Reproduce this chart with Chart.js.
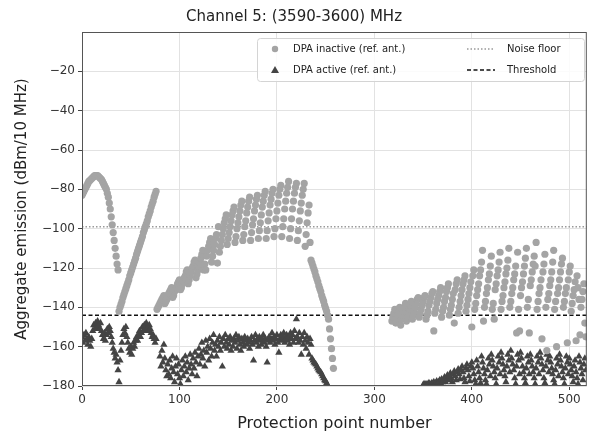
<!DOCTYPE html>
<html>
<head>
<meta charset="utf-8">
<script src="https://cdn.jsdelivr.net/npm/chart.js@4.4.1/dist/chart.umd.min.js"></script>
<style>
  html, body { margin: 0; padding: 0; background: #fff; }
  #wrap { width: 591px; height: 433px; }
</style>
</head>
<body>
<div id="wrap"><canvas id="chart" width="591" height="433"></canvas></div>
<script>
// aggregate emission per protection point, in dBm/10 MHz
// each run starts at the protection point given in its *_START constant

// DPA inactive (ref. ant.)
const INACTIVE_A_START = 0;
const inactiveA = [-83, -82, -81, -80, -79, -78, -77, -76, -75.5, -75, -74.5, -74, -73.5, -73, -73, -73, -73, -73.5,
  -74, -74.5, -75, -76, -77, -78, -79, -80, -82, -84, -87, -90, -94, -98, -102, -106, -110, -114, -118, -121];

const INACTIVE_B_START = 38;
const inactiveB = [-142, -140, -138.5, -137, -135, -133.5, -132, -130.5, -129, -127.5, -126, -124, -122.5, -121,
  -119.5, -118, -116.5, -115, -113, -111.5, -110, -108.5, -107, -105.5, -104, -102, -100.5, -99, -97.5, -96, -94,
  -92.5, -91, -89, -87.5, -86, -84, -82.5, -81];

const INACTIVE_C_START = 77;
const inactiveC = [
  -141, -140, -139, -138, -137, -136, -135, -134,
  -138, -137, -136, -134, -133, -132, -131, -130,
  -135, -134, -132, -131, -130, -128, -127, -126,
  -131, -130, -128, -127, -125, -124, -122, -121,
  -128, -126, -124, -122, -120, -119, -117, -116,
  -125, -123, -121, -119, -117, -115, -113, -111,
  -121, -118, -121, -114, -111, -109, -107, -105,
  -117, -114, -111, -108, -105, -103, -117.5, -99,
  -112, -109, -106, -103, -100, -97, -95, -93,
  -108, -105, -102, -99, -96, -93, -91, -89,
  -107, -104, -100, -97, -94, -91, -88, -86,
  -106, -103, -99, -96, -92, -89, -86, -84,
  -106, -102, -98, -95, -91, -88, -85, -83,
  -105, -101, -97, -93, -89, -86, -83, -81,
  -105, -101, -96, -92, -88, -85, -82, -80,
  -104, -100, -95, -91, -87, -83, -80, -78,
  -104, -99, -95, -90, -86, -82, -79, -76,
  -105, -100, -95, -90, -86, -82, -79, -77,
  -106, -101, -96, -91, -87, -83, -80, -77,
  -109, -103, -97, -92, -88, -107,
  -116, -117.5, -119, -120.5, -122, -124, -125.5, -127, -129, -130.5, -132, -134, -135.5, -137, -139, -140.5,
  -142, -144, -146, -151, -156, -161, -166, -171];

const INACTIVE_D_START = 318;
const inactiveD = [
  -147, -145, -143, -141,
  -148, -146, -144, -142, -140,
  -149, -146, -144, -142, -140, -138,
  -147, -145, -143, -141, -139, -137,
  -146, -144, -142, -140, -138, -136, -135,
  -145, -143, -141, -139, -137, -135, -134,
  -146, -144, -142, -139, -137, -135, -133, -132,
  -152, -143, -141, -138, -136, -134, -132, -130,
  -145, -142, -140, -137, -135, -132, -130, -128,
  -144, -141, -139, -136, -133, -148, -131, -128, -126,
  -143, -140, -137, -134, -131, -128, -126, -124,
  -142, -139, -136, -133, -130, -127, -150, -124, -121,
  -141, -138, -134, -131, -128, -124, -121, -117, -111,
  -147, -140, -137, -133, -130, -126, -123, -119, -114,
  -141, -138, -146, -131, -128, -124, -121, -117, -112,
  -141, -137, -134, -130, -127, -123, -120, -116, -110,
  -140, -137, -133, -130, -126, -123, -119, -153, -112,
  -141, -152, -134, -130, -127, -123, -119, -115, -110,
  -140, -136, -153, -129, -126, -122, -118, -114, -119,
  -107, -141, -137, -133, -130, -126, -156, -122, -118,
  -113, -140, -162, -136, -133, -129, -126, -122, -117,
  -111, -141, -137, -160, -133, -130, -126, -122, -118,
  -115, -140, -137, -133, -130, -158, -126, -122, -119,
  -142, -138, -134, -131, -127, -157, -124, -130, -136,
  -154, -140, -136, -132, -128, -148, -155];

// DPA active (ref. ant.)
const ACTIVE_A_START = 0;
const activeA = [-155, -158, -154, -157, -153, -156, -159, -155, -157, -160, -156, -152, -149, -151, -148, -150,
  -147, -149, -151, -148, -152, -154, -156, -153, -157, -154, -151, -153, -150, -152, -155, -158, -161, -163,
  -166, -164, -168, -172, -178, -167, -162, -158, -154, -151, -153, -150, -155, -158, -161, -163, -160, -164,
  -161, -158, -160, -157, -155, -157, -154, -152, -155, -153, -150, -152, -149, -151, -148, -150, -152, -149,
  -151, -153, -155, -154, -156, -158, -156];

const ACTIVE_B_START = 80;
const activeB = [-165, -170, -162, -168, -159, -166, -172, -175, -169, -174, -167, -176, -171, -165, -173, -178,
  -170, -166, -174, -169, -176, -179, -172, -167, -175, -170, -165, -173, -168, -177, -171, -164, -169, -174,
  -166, -171, -163, -168, -175, -165, -161, -169, -164, -158, -166, -162, -170, -157, -163, -160, -167, -156,
  -161, -165, -158, -154, -162, -159, -165, -157, -160, -155, -162, -158, -170, -156, -160, -154, -158, -161,
  -156, -159, -155, -162, -157, -160, -156, -158, -154, -161, -157, -155, -159, -162, -156, -158, -160, -155,
  -157, -159, -156, -158, -161, -157, -155, -159, -167, -157, -154, -158, -156, -160, -155, -157, -159, -156,
  -154, -158, -156, -160, -168, -157, -155, -158, -156, -153, -157, -155, -159, -156, -154, -158, -163, -156,
  -154, -157, -155, -153, -158, -156, -154, -157, -155, -159, -153, -156, -154, -158, -152, -156, -146, -155,
  -158, -153, -157, -164, -155, -159, -153, -157, -161, -155, -158, -164, -156, -159];

const ACTIVE_C_START = 236;
const activeC = [-166, -167, -168, -168.5, -169, -170, -171, -172, -172.5, -173, -174, -175, -176, -177, -177.5,
  -178.5, -179.5];

const ACTIVE_D_START = 350;
const activeD = [
  -179.5, -179, -179.5, -179, -179.5, -179, -178.5, -179, -179.5, -178.5,
  -179, -178, -179, -178.5, -177.5, -179, -178, -177, -178.5, -176.5,
  -178, -177, -175.5, -178, -176, -174.5, -177, -175, -173.5, -176,
  -178, -174, -172.5, -175, -177, -173, -171.5, -174, -176.5, -172,
  -170, -173, -176, -178, -171, -169, -172, -175, -177.5, -170,
  -168, -171, -174, -177, -179, -167, -170, -173, -176, -178.5,
  -165, -168, -171, -174, -177, -179, -172, -166, -169, -175,
  -164, -167, -170, -173, -176, -179, -171, -165, -168, -174,
  -163, -166, -169, -172, -175, -178, -170, -164, -167, -173,
  -162, -166, -169, -172, -176, -179, -170, -164, -167, -174,
  -163, -166, -170, -173, -176, -178.5, -171, -165, -168, -174,
  -164, -167, -170, -173, -176, -179, -171, -165, -168, -174,
  -163, -166, -169, -172, -176, -178.5, -170, -164, -167, -173,
  -165, -168, -171, -174, -177, -179, -172, -166, -169, -175,
  -164, -167, -170, -173, -176, -179, -171, -165, -168, -174,
  -166, -169, -172, -175, -178, -170, -167, -173, -176, -179,
  -165, -168, -171, -174, -177, -169, -166, -172];

// reference levels
const noiseFloor = -99;
const threshold = -144;

const xTicks = [0, 100, 200, 300, 400, 500];
const yTicks = [-180, -160, -140, -120, -100, -80, -60, -40, -20];
const X_MAX = 518;

const inactiveColor = '#a4a4a4';
const activeColor = '#444444';
const FONT = "'DejaVu Sans', sans-serif";

function run(start, values) {
  return values.map((v, i) => ({ x: start + i, y: v }));
}

const inactivePts = [].concat(
  run(INACTIVE_A_START, inactiveA),
  run(INACTIVE_B_START, inactiveB),
  run(INACTIVE_C_START, inactiveC),
  run(INACTIVE_D_START, inactiveD)
);
const activePts = [].concat(
  run(ACTIVE_A_START, activeA),
  run(ACTIVE_B_START, activeB),
  run(ACTIVE_C_START, activeC),
  run(ACTIVE_D_START, activeD)
);

// axes frame + legend box in the upper right corner
const framePlugin = {
  id: 'frame',
  afterDatasetsDraw(chart) {
    const { ctx, chartArea: a } = chart;
    ctx.save();
    ctx.strokeStyle = '#555';
    ctx.lineWidth = 1;
    ctx.strokeRect(a.left + 0.5, a.top + 0.5, a.right - a.left - 1, a.bottom - a.top - 1);
    ctx.restore();
  },
  afterDraw(chart) {
    const { ctx } = chart;
    const bx = 257, by = 38, bw = 327, bh = 43;
    ctx.save();
    ctx.fillStyle = 'rgba(255,255,255,0.85)';
    ctx.strokeStyle = '#d4d4d4';
    ctx.lineWidth = 1;
    ctx.beginPath();
    ctx.roundRect(bx + 0.5, by + 0.5, bw, bh, 3);
    ctx.fill();
    ctx.stroke();

    const row1 = 49, row2 = 70;
    ctx.font = '10px ' + FONT;
    ctx.fillStyle = '#222';
    ctx.textBaseline = 'middle';
    ctx.fillText('DPA inactive (ref. ant.)', 293, row1);
    ctx.fillText('DPA active (ref. ant.)', 293, row2);
    ctx.fillText('Noise floor', 507, row1);
    ctx.fillText('Threshold', 507, row2);

    ctx.fillStyle = inactiveColor;
    ctx.beginPath();
    ctx.arc(275, row1, 3.2, 0, Math.PI * 2);
    ctx.fill();

    ctx.fillStyle = activeColor;
    ctx.beginPath();
    ctx.moveTo(275, row2 - 4);
    ctx.lineTo(279, row2 + 3);
    ctx.lineTo(271, row2 + 3);
    ctx.closePath();
    ctx.fill();

    ctx.lineWidth = 1.5;
    ctx.strokeStyle = '#999';
    ctx.setLineDash([1.5, 2]);
    ctx.beginPath();
    ctx.moveTo(467, row1);
    ctx.lineTo(495, row1);
    ctx.stroke();

    ctx.strokeStyle = '#111';
    ctx.setLineDash([4, 2.5]);
    ctx.beginPath();
    ctx.moveTo(467, row2);
    ctx.lineTo(495, row2);
    ctx.stroke();
    ctx.restore();
  }
};

new Chart(document.getElementById('chart'), {
  type: 'scatter',
  data: {
    datasets: [
      {
        label: 'DPA inactive (ref. ant.)',
        data: inactivePts,
        pointStyle: 'circle',
        pointRadius: 3.6,
        borderWidth: 0,
        backgroundColor: inactiveColor,
        borderColor: inactiveColor
      },
      {
        label: 'DPA active (ref. ant.)',
        data: activePts,
        pointStyle: 'triangle',
        pointRadius: 4.2,
        borderWidth: 0,
        backgroundColor: activeColor,
        borderColor: activeColor
      },
      {
        type: 'line',
        label: 'Noise floor',
        data: [{ x: 0, y: noiseFloor }, { x: X_MAX, y: noiseFloor }],
        borderColor: '#999',
        borderWidth: 1.5,
        borderDash: [1.5, 2],
        pointRadius: 0
      },
      {
        type: 'line',
        label: 'Threshold',
        data: [{ x: 0, y: threshold }, { x: X_MAX, y: threshold }],
        borderColor: '#111',
        borderWidth: 1.5,
        borderDash: [4, 2.5],
        pointRadius: 0
      }
    ]
  },
  options: {
    responsive: false,
    animation: false,
    layout: { padding: { left: 0, right: 3, top: 0, bottom: 0 } },
    plugins: {
      legend: { display: false },
      tooltip: { enabled: false },
      title: {
        display: true,
        text: 'Channel 5: (3590-3600) MHz',
        color: '#222',
        font: { family: FONT, size: 15, weight: 'normal' },
        padding: { top: 8, bottom: 6 }
      }
    },
    scales: {
      x: {
        type: 'linear',
        min: 0,
        max: X_MAX,
        afterBuildTicks: axis => { axis.ticks = xTicks.map(v => ({ value: v })); },
        afterFit: axis => { axis.height = 47; },
        ticks: { color: '#333', font: { family: FONT, size: 12 }, padding: 3 },
        grid: { color: '#e2e2e2', tickColor: '#444', tickLength: 4 },
        border: { display: false },
        title: {
          display: true,
          text: 'Protection point number',
          color: '#222',
          font: { family: FONT, size: 16 },
          padding: { top: 11, bottom: 0 }
        }
      },
      y: {
        type: 'linear',
        min: -180,
        max: 0,
        afterBuildTicks: axis => { axis.ticks = yTicks.map(v => ({ value: v })); },
        afterFit: axis => { axis.width = 82; },
        ticks: {
          color: '#333',
          font: { family: FONT, size: 12 },
          padding: 3,
          callback: v => String(v).replace('-', '\u2212')
        },
        grid: { color: '#e2e2e2', tickColor: '#444', tickLength: 4 },
        border: { display: false },
        title: {
          display: true,
          text: 'Aggregate emission (dBm/10 MHz)',
          color: '#222',
          font: { family: FONT, size: 15 },
          padding: { top: 13, bottom: 0 }
        }
      }
    }
  },
  plugins: [framePlugin]
});
</script>
</body>
</html>
